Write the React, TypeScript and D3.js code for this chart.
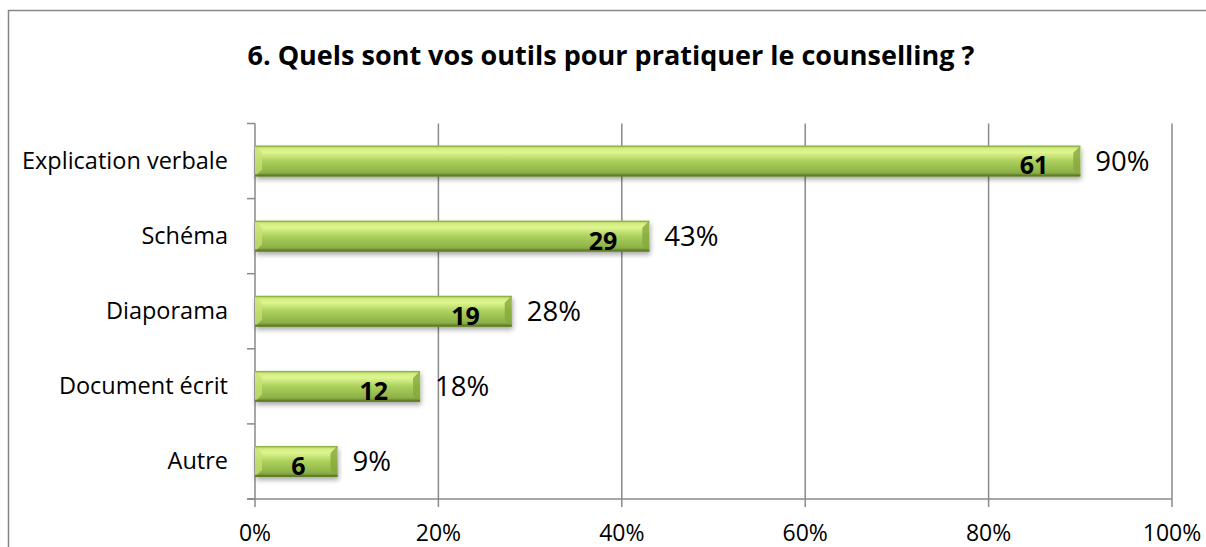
import * as d3 from "d3";
import { useEffect, useRef } from "react";

const categories = ["Explication verbale", "Schéma", "Diaporama", "Document écrit", "Autre"];
const percents = [90, 43, 28, 18, 9];
const counts = [61, 29, 19, 12, 6];
const xTicks = [0, 20, 40, 60, 80, 100];
const title = "6. Quels sont vos outils pour pratiquer le counselling ?";

const App = () => {
  const svgRef = useRef<SVGSVGElement>(null);

  useEffect(() => {
    const width = 1206;
    const height = 547;
    const margin = { top: 123.5, right: 34, bottom: 48, left: 255 };
    const font = "'Open Sans', 'Noto Sans', sans-serif";

    const svg = d3.select(svgRef.current);
    svg.selectAll("*").remove();

    const defs = svg.append("defs");
    const grad = defs
      .append("linearGradient")
      .attr("id", "barGrad")
      .attr("x1", 0)
      .attr("y1", 0)
      .attr("x2", 0)
      .attr("y2", 1);
    [
      ["0%", "#a5c955"],
      ["10%", "#d4ee82"],
      ["22%", "#def590"],
      ["50%", "#abd05c"],
      ["85%", "#8fb349"],
      ["100%", "#6c8c30"],
    ].forEach(([o, c]) => grad.append("stop").attr("offset", o).attr("stop-color", c));

    const shadow = defs.append("filter").attr("id", "shadow").attr("x", "-5%").attr("y", "-30%").attr("width", "110%").attr("height", "170%");
    shadow
      .append("feDropShadow")
      .attr("dx", 1)
      .attr("dy", 3)
      .attr("stdDeviation", 2.5)
      .attr("flood-color", "#000")
      .attr("flood-opacity", 0.35);

    // chart border
    svg
      .append("rect")
      .attr("x", 8.5)
      .attr("y", 10.5)
      .attr("width", 1210)
      .attr("height", 600)
      .attr("fill", "#fff")
      .attr("stroke", "#878787")
      .attr("stroke-width", 1.5);

    svg
      .append("text")
      .attr("x", 611)
      .attr("y", 65)
      .attr("text-anchor", "middle")
      .attr("font-family", font)
      .attr("font-weight", "bold")
      .attr("font-size", 27)
      .attr("fill", "#000")
      .text(title);

    const x = d3
      .scaleLinear()
      .domain([0, 100])
      .range([margin.left, width - margin.right]);

    const y = d3
      .scaleBand()
      .domain(categories)
      .range([margin.top, height - margin.bottom])
      .paddingInner(0.59)
      .paddingOuter(0.295);

    const yb = d3
      .scaleLinear()
      .domain([0, categories.length])
      .range([margin.top, height - margin.bottom]);

    const axisColor = "#8a8a8a";

    // gridlines + bottom ticks
    xTicks.forEach((t) => {
      svg
        .append("line")
        .attr("x1", x(t))
        .attr("x2", x(t))
        .attr("y1", margin.top)
        .attr("y2", height - margin.bottom + 8)
        .attr("stroke", axisColor)
        .attr("stroke-width", 1.5);
      svg
        .append("text")
        .attr("x", x(t))
        .attr("y", 541)
        .attr("text-anchor", "middle")
        .attr("font-family", font)
        .attr("font-size", 23)
        .attr("fill", "#000")
        .text(t + "%");
    });

    // left axis ticks
    d3.range(categories.length + 1).forEach((i) => {
      svg
        .append("line")
        .attr("x1", margin.left - 8)
        .attr("x2", margin.left)
        .attr("y1", yb(i))
        .attr("y2", yb(i))
        .attr("stroke", axisColor)
        .attr("stroke-width", 1.5);
    });

    // bottom axis
    svg
      .append("line")
      .attr("x1", margin.left - 8)
      .attr("x2", x(100))
      .attr("y1", height - margin.bottom)
      .attr("y2", height - margin.bottom)
      .attr("stroke", axisColor)
      .attr("stroke-width", 1.5);

    // category labels
    categories.forEach((c) => {
      svg
        .append("text")
        .attr("x", 228)
        .attr("y", y(c)! + y.bandwidth() / 2 + 8)
        .attr("text-anchor", "end")
        .attr("font-family", font)
        .attr("font-size", 23.5)
        .attr("fill", "#000")
        .text(c);
    });

    // bars
    const bev = 7;
    categories.forEach((c, i) => {
      const x0 = x(0);
      const x1 = x(percents[i]);
      const y0 = y(c)!;
      const h = y.bandwidth();
      const y1 = y0 + h;
      const g = svg.append("g");
      g.append("rect")
        .attr("x", x0)
        .attr("y", y0)
        .attr("width", x1 - x0)
        .attr("height", h)
        .attr("fill", "url(#barGrad)")
        .attr("filter", "url(#shadow)");
      // bevel left
      g.append("path")
        .attr("d", `M${x0},${y0}L${x0 + bev},${y0 + bev}L${x0 + bev},${y1 - bev}L${x0},${y1}Z`)
        .attr("fill", "#c7e273")
        .attr("opacity", 0.75);
      // bevel right
      g.append("path")
        .attr("d", `M${x1},${y0}L${x1 - bev},${y0 + bev}L${x1 - bev},${y1 - bev}L${x1},${y1}Z`)
        .attr("fill", "#86a83c")
        .attr("opacity", 0.8);
      // top and bottom edges
      g.append("rect")
        .attr("x", x0)
        .attr("y", y0)
        .attr("width", x1 - x0)
        .attr("height", 1.2)
        .attr("fill", "#8fb343");
      g.append("rect")
        .attr("x", x0)
        .attr("y", y1 - 2)
        .attr("width", x1 - x0)
        .attr("height", 2)
        .attr("fill", "#5f7f26");

      g.append("text")
        .attr("x", x1 - 32)
        .attr("y", y1 - 2)
        .attr("text-anchor", "end")
        .attr("font-family", font)
        .attr("font-weight", "bold")
        .attr("font-size", 25)
        .attr("fill", "#000")
        .text(counts[i]);

      g.append("text")
        .attr("x", x1 + 15)
        .attr("y", y0 + h / 2 + 10)
        .attr("font-family", font)
        .attr("font-size", 27.5)
        .attr("fill", "#000")
        .text(percents[i] + "%");
    });
  }, []);

  return (
    <svg
      ref={svgRef}
      width={1206}
      height={547}
      style={{ position: "fixed", left: 0, top: 0, background: "#fff" }}
    ></svg>
  );
};

export default App;
